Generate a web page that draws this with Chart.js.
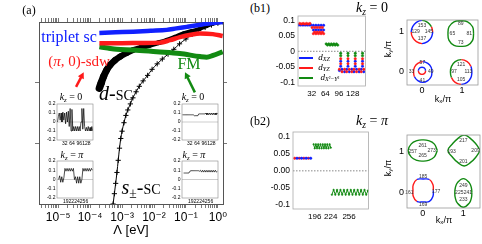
<!DOCTYPE html>
<html>
<head>
<meta charset="utf-8">
<script src="https://cdn.jsdelivr.net/npm/chart.js@4.4.1/dist/chart.umd.min.js"></script>
<style>
  body { margin: 0; background: #fff; }
  #page { position: relative; width: 482px; height: 244px; overflow: hidden; font-family: "Liberation Serif", serif; color: #000; }
  #page canvas { position: absolute; }
  .t { position: absolute; white-space: nowrap; line-height: 1; transform: translate(-50%, -50%); }
  .sans { font-family: "Liberation Sans", "DejaVu Sans", sans-serif; }
  .t sub { font-size: 68%; vertical-align: -0.3em; line-height: 0; }
  .sc { font-variant: small-caps; }
  .lg { position: absolute; height: 2.5px; width: 14px; }
</style>
</head>
<body>
<div id="page">
  <canvas id="cMain" width="250" height="244" style="left:0;top:0"></canvas>
  <canvas id="cIn1" width="56" height="48" style="left:40px;top:100px"></canvas>
  <canvas id="cIn2" width="56" height="49" style="left:40px;top:157px"></canvas>
  <canvas id="cIn3" width="56" height="48" style="left:165px;top:100px"></canvas>
  <canvas id="cIn4" width="56" height="49" style="left:165px;top:157px"></canvas>
  <canvas id="cB1" width="100" height="92" style="left:270px;top:10px"></canvas>
  <canvas id="cFS1" width="97" height="87" style="left:385px;top:10px"></canvas>
  <canvas id="cB2" width="108" height="100" style="left:265px;top:125px"></canvas>
  <canvas id="cFS2" width="97" height="95" style="left:385px;top:125px"></canvas>

  <div class="t" style="left:29px;top:10px;font-size:12px">(a)</div>
  <div class="t" style="left:69px;top:37px;font-size:16px;color:#1020ff">triplet sc</div>
  <div class="t" style="left:79px;top:61px;font-size:15px;color:#ff1a1a">(<i>π</i>, 0)-sdw</div>
  <div class="t" style="left:116px;top:93px;font-size:20px"><i>d</i>-<span class="sc">sc</span></div>
  <div class="t" style="left:189px;top:64px;font-size:16px;color:#128a12">FM</div>
  <div class="t" style="left:141px;top:187px;font-size:20px"><i>s</i><sub>±</sub>-<span class="sc">sc</span></div>
  <div class="t" style="left:71px;top:97px;font-size:10px"><i>k</i><sub><i>z</i></sub> = 0</div>
  <div class="t" style="left:193px;top:97px;font-size:10px"><i>k</i><sub><i>z</i></sub> = 0</div>
  <div class="t" style="left:72px;top:155px;font-size:10px"><i>k</i><sub><i>z</i></sub> = <i>π</i></div>
  <div class="t" style="left:194px;top:155px;font-size:10px"><i>k</i><sub><i>z</i></sub> = <i>π</i></div>

  <div class="t" style="left:260px;top:8px;font-size:12px">(b1)</div>
  <div class="t" style="left:260px;top:121px;font-size:12px">(b2)</div>
  <div class="t" style="left:372px;top:8px;font-size:14px"><i>k</i><sub><i>z</i></sub> = 0</div>
  <div class="t" style="left:372px;top:121px;font-size:14px"><i>k</i><sub><i>z</i></sub> = <i>π</i></div>

  <div class="lg" style="left:299px;top:56.5px;background:#1020ff"></div>
  <div class="lg" style="left:299px;top:66.5px;background:#ff1a1a"></div>
  <div class="lg" style="left:299px;top:76.8px;background:#128a12"></div>
  <div class="t" style="left:324px;top:57px;font-size:9px"><i>d</i><sub><i>XZ</i></sub></div>
  <div class="t" style="left:324px;top:67px;font-size:9px"><i>d</i><sub><i>YZ</i></sub></div>
  <div class="t" style="left:330px;top:77px;font-size:9px"><i>d</i><sub><i>X</i>²−<i>Y</i>²</sub></div>

  <div class="t sans" style="left:388px;top:49px;font-size:9px;transform:translate(-50%,-50%) rotate(-90deg)">k<sub>y</sub>/π</div>
  <div class="t sans" style="left:443px;top:99px;font-size:9px">k<sub>x</sub>/π</div>
  <div class="t sans" style="left:388px;top:168px;font-size:9px;transform:translate(-50%,-50%) rotate(-90deg)">k<sub>y</sub>/π</div>
  <div class="t sans" style="left:444px;top:220px;font-size:9px">k<sub>x</sub>/π</div>
</div>

<script>
const BLUE = '#1020ff', RED = '#ff1a1a', GREEN = '#128a12'

// ---- (a) flow of the couplings, x = log10(Λ / eV) ----
const tripletLogL = [-3.71, -3.2, -2.65, -2.1, -1.6, -1.3, -0.97, -0.65, -0.35, 0.15]
const tripletVal  = [2.82, 2.83, 2.84, 2.855, 2.87, 2.895, 2.92, 2.945, 2.97, 3.0]
const sdwLogL = [-3.71, -3.0, -2.4, -1.81, -1.5, -1.19, -0.85, -0.56, -0.16, 0.15]
const sdwVal  = [2.65, 2.65, 2.655, 2.66, 2.7, 2.75, 2.79, 2.81, 2.8, 2.77]
const fmLogL = [-3.71, -3.45, -3.17, -2.65, -1.92, -1.19, -0.56, -0.35, -0.15, 0.15]
const fmVal  = [2.59, 2.57, 2.55, 2.54, 2.51, 2.48, 2.43, 2.42, 2.45, 2.51]
const dscLogL = [-3.71, -3.65, -3.58, -3.48, -3.375, -3.22, -3.06, -2.85, -2.65, -2.4,
                 -2.125, -1.85, -1.6, -1.35, -1.08, -0.82, -0.56, -0.35, -0.15, 0.15]
const dscVal  = [1.91, 2.0, 2.1, 2.21, 2.29, 2.37, 2.43, 2.49, 2.54, 2.58,
                 2.62, 2.66, 2.7, 2.75, 2.81, 2.85, 2.89, 2.93, 2.97, 3.0]
const spmLogL = [-3.28, -3.24, -3.2, -3.16, -3.12, -3.08, -3.04, -3.0, -2.94, -2.88,
                 -2.82, -2.74, -2.66, -2.56, -2.46, -2.34, -2.2, -2.06, -1.9, -1.74,
                 -1.56, -1.38, -1.2, -1.0, -0.8, -0.6, -0.4, -0.2, 0.0, 0.16]
const spmVal  = [0.0, 0.17, 0.34, 0.52, 0.72, 0.92, 1.08, 1.2, 1.34, 1.46,
                 1.55, 1.65, 1.75, 1.85, 1.94, 2.03, 2.12, 2.22, 2.31, 2.39,
                 2.47, 2.55, 2.64, 2.72, 2.8, 2.86, 2.91, 2.95, 2.98, 3.0]
const xTickVals = [1e-5, 1e-4, 1e-3, 1e-2, 1e-1, 1]
const xTickLabels = ['10⁻⁵', '10⁻⁴', '10⁻³', '10⁻²', '10⁻¹', '10⁰']
const mainArrows = [
  { from: [Math.pow(10, -4.44), 1.93], to: [Math.pow(10, -4.2), 2.17], color: RED },
  { from: [Math.pow(10, -0.72), 1.84], to: [Math.pow(10, -1.03), 2.17], color: GREEN }
]

// ---- (a) insets: gap function along the Fermi surface ----
const kz0Idx = [0, 4, 8, 12, 16, 20, 24, 28, 32, 36, 40, 44, 48, 52, 56, 60, 64, 68, 72, 76,
                80, 84, 88, 92, 96, 100, 104, 108, 112, 116, 120, 124, 128, 132, 136, 140, 144, 148, 152, 156]
const kzPiIdx = [160, 164, 168, 172, 176, 180, 184, 188, 192, 196, 200, 204, 208, 212, 216, 220, 224,
                 228, 232, 236, 240, 244, 248, 252, 256, 260, 264, 268, 272, 276, 280, 284, 288]
const gapSdw0 = [0, .06, .1, .02, .1, 0, .11, .02, .1, -.02, .11, 0, .12, -.05, .15, -.1, .14, -.1, -.05, -.1,
                 -.05, -.1, -.05, -.1, -.05, -.1, 0, .15, -.08, .15, -.05, -.1, -.06, -.1, -.05, -.1, -.06, -.1, -.05, -.1]
const gapSdwPi = [0, .04, -.03, .03, -.03, .02, .12, .09, .12, .09, .12, .09, .12, .09, .12, 0, .03,
                  -.04, .03, -.04, .03, -.04, 0, .12, .09, .12, .09, .12, .09, .12, .09, .12, .1]
const gapFm0 = [.08, .08, .08, .08, .08, .08, .08, .08, .08, .08, .08, .08, .08, .07, .07, .07, .07, .07, .09, .09,
                .09, .09, .09, .09, .09, .09, .1, .08, .1, .08, .1, .08, .1, .08, .1, .08, .1, .08, .1, .09]
const gapFmPi = [.07, .07, .07, .07, .07, .07, .09, .095, .095, .095, .095, .095, .095, .095, .095, .09, .1,
                 .08, .1, .08, .1, .08, .1, .08, .1, .08, .1, .08, .1, .08, .1, .08, .09]
const insetYTicks = [-0.2, -0.1, 0, 0.1, 0.2]
const insetYLabels = ['-0.2', '-0.1', '0', '0.1', '0.2']
const kz0Ticks = [32, 64, 96, 128]
const kzPiTicks = [192, 224, 256]

// ---- (b1) kz = 0 orbital weights, [patch index, value] ----
const b1Blue = [[2, .085], [6, .085], [10, .085], [14, .085], [18, .085], [22, .085], [26, .085], [30, .085],
  [36, .084], [42, .084], [48, .084], [54, .084], [60, .084], [36, .069], [42, .069], [48, .069], [54, .069], [60, .069],
  [100, -.032], [117, -.032], [134, -.032], [151, -.032], [100, -.048], [117, -.048], [134, -.048], [151, -.048],
  [97, -.062], [103, -.058], [109, -.066], [114, -.058], [120, -.066], [126, -.058], [131, -.066], [137, -.058],
  [143, -.066], [148, -.058], [154, -.066]]
const b1Red = [[4, .09], [8, .088], [12, .09], [16, .088], [20, .09], [24, .088], [28, .09],
  [33, .077], [39, .077], [45, .077], [51, .077], [57, .077], [39, .062], [45, .062], [51, .062], [57, .062],
  [36, .057], [42, .057], [48, .057], [54, .057], [60, .057],
  [100, -.024], [117, -.024], [134, -.024], [151, -.024], [100, -.04], [117, -.04], [134, -.04], [151, -.04],
  [97, -.058], [103, -.066], [109, -.058], [114, -.066], [120, -.058], [126, -.066], [131, -.058], [137, -.066],
  [143, -.058], [148, -.066], [154, -.058]]
const b1Green = [[66, .024], [69, .02], [72, .024], [75, .02], [78, .024], [81, .02], [84, .024], [87, .02], [90, .024], [93, .02],
  [100, -.006], [117, -.006], [134, -.006], [151, -.006], [100, -.014], [117, -.014], [134, -.014], [151, -.014]]
const b1YTicks = [-0.1, -0.05, 0, 0.05, 0.1]
const b1YLabels = ['-0.1', '-0.05', '0', '0.05', '0.1']
const b1XTicks = [32, 64, 96, 128]

// ---- (b2) kz = π ----
const b2Red = [[161, .037], [169, .037], [177, .037], [185, .037]]
const b2Blue = [[165, .037], [173, .037], [181, .037], [189, .037]]
const b2GreenUp = [[194, .078], [196, .066], [198, .078], [200, .066], [202, .078], [204, .066], [206, .078], [208, .066],
  [210, .078], [212, .066], [214, .078], [216, .066], [218, .078], [220, .066], [222, .078], [224, .068]]
const b2GreenLow = [[226, -.07], [229, -.056], [232, -.07], [235, -.056], [238, -.07], [241, -.056], [244, -.07], [247, -.056],
  [250, -.07], [253, -.056], [256, -.07], [259, -.056], [262, -.07], [265, -.056], [268, -.07], [271, -.056],
  [274, -.07], [277, -.056], [280, -.07], [283, -.056], [286, -.07], [289, -.058]]
const b2YLabels = ['-0.1', '-0.05', '0.00', '0.05', '0.1']
const b2XTicks = [196, 224, 256]

// ---- Fermi pockets: centre (kx/π, ky/π) and radius every 30 degrees ----
const pocketAngles = [0, 30, 60, 90, 120, 150, 180, 210, 240, 270, 300, 330]
const fs0Pockets = [
  { c: [0, 1], r: [.27, .27, .28, .29, .28, .27, .27, .27, .28, .29, .28, .27] },
  { c: [0.97, 0.96], r: [.32, .34, .34, .32, .34, .34, .32, .34, .34, .32, .34, .34] },
  { c: [0.02, 0.0], r: [.23, .24, .25, .26, .25, .24, .23, .24, .25, .26, .25, .24] },
  { c: [0.0, 0.03], r: [.09, .09, .09, .09, .09, .09, .09, .09, .09, .09, .09, .09] },
  { c: [0.98, 0.0], r: [.27, .28, .3, .31, .3, .28, .27, .28, .3, .31, .3, .28] }
]
const fs0Colors = [
  ['r', 'g', 'g', 'b', 'b', 'b', 'r', 'r', 'r', 'b', 'b', 'b'],
  ['g', 'g', 'g', 'g', 'g', 'g', 'g', 'g', 'g', 'g', 'g', 'g'],
  ['b', 'b', 'b', 'r', 'r', 'r', 'r', 'b', 'b', 'b', 'b', 'b'],
  ['b', 'b', 'b', 'b', 'b', 'b', 'r', 'r', 'r', 'r', 'r', 'r'],
  ['b', 'r', 'r', 'g', 'g', 'g', 'g', 'r', 'r', 'b', 'b', 'b']
]
const fs0Tags = [['153', 0, 1.16], ['129', -0.16, 1.0], ['145', 0.17, 1.0], ['137', 0, 0.84],
  ['89', 0.97, 1.2], ['65', 0.76, 0.96], ['81', 1.18, 0.96], ['73', 0.97, 0.73],
  ['57', 0.01, 0.24], ['33', -0.26, 0.0], ['49', 0.22, 0.02], ['41', 0.01, -0.21],
  ['121', 0.98, 0.19], ['97', 0.8, 0.0], ['113', 1.16, 0.0], ['105', 0.98, -0.19]]
const fsPiPockets = [
  { c: [0, 1.02], r: [.36, .325, .28, .26, .28, .325, .36, .325, .28, .26, .28, .325] },
  { c: [1.02, 1.02], r: [.40, .33, .33, .38, .33, .33, .40, .33, .33, .38, .33, .33] },
  { c: [0.01, 0.04], r: [.25, .28, .31, .28, .31, .28, .25, .28, .31, .28, .31, .28] },
  { c: [1.0, -0.02], r: [.21, .23, .29, .35, .29, .23, .21, .23, .29, .35, .29, .23] }
]
const fsPiColors = [
  ['g', 'g', 'g', 'g', 'g', 'g', 'g', 'g', 'g', 'g', 'g', 'g'],
  ['g', 'g', 'g', 'g', 'g', 'g', 'g', 'g', 'g', 'g', 'g', 'g'],
  ['r', 'r', 'b', 'b', 'r', 'r', 'r', 'r', 'b', 'b', 'b', 'b'],
  ['g', 'g', 'g', 'g', 'g', 'g', 'g', 'g', 'g', 'g', 'g', 'g']
]
const fsPiTags = [['261', 0, 1.13], ['257', -0.25, 1.0], ['273', 0.22, 1.02], ['265', 0, 0.89],
  ['217', 1.0, 1.27], ['193', 0.71, 1.0], ['209', 1.3, 1.02], ['201', 1.0, 0.74],
  ['185', 0.01, 0.38], ['161', -0.33, -0.02], ['177', 0.33, 0.02], ['169', 0.01, -0.3],
  ['249', 1.0, 0.17], ['225', 0.9, -0.01], ['241', 1.11, -0.01], ['233', 1.0, -0.19]]
const fsTicks = [0, 1]

// ---------------------------------------------------------------
const colorOf = { r: RED, g: GREEN, b: BLUE }
const SANS = '"Liberation Sans", "DejaVu Sans", sans-serif'

// fill / frame / zero line of a plot area
const boxPlugin = {
  id: 'box',
  beforeDraw(chart, args, o) {
    if (!o.fill) return
    const a = chart.chartArea, c = chart.ctx
    c.save(); c.fillStyle = o.fill; c.fillRect(a.left, a.top, a.width, a.height); c.restore()
  },
  beforeDatasetsDraw(chart, args, o) {
    if (!o.zero) return
    const a = chart.chartArea, c = chart.ctx, y = chart.scales.y.getPixelForValue(0)
    c.save(); c.strokeStyle = o.zero; c.lineWidth = o.zeroWidth || 0.6
    c.setLineDash(o.zeroDash || [])
    c.beginPath(); c.moveTo(a.left, y); c.lineTo(a.right, y); c.stroke(); c.restore()
  },
  afterDraw(chart, args, o) {
    if (!o.frame) return
    const a = chart.chartArea, c = chart.ctx
    c.save(); c.strokeStyle = o.frame; c.lineWidth = o.frameWidth || 0.8
    c.strokeRect(a.left, a.top, a.width, a.height); c.restore()
  }
}

const arrowPlugin = {
  id: 'arrows',
  afterDatasetsDraw(chart, args, o) {
    if (!o.list) return
    const { ctx, scales: { x, y } } = chart
    o.list.forEach(a => {
      const x0 = x.getPixelForValue(a.from[0]), y0 = y.getPixelForValue(a.from[1])
      const x1 = x.getPixelForValue(a.to[0]), y1 = y.getPixelForValue(a.to[1])
      const ang = Math.atan2(y1 - y0, x1 - x0), h = 7
      ctx.save()
      ctx.strokeStyle = ctx.fillStyle = a.color
      ctx.lineWidth = 2.5
      ctx.beginPath(); ctx.moveTo(x0, y0)
      ctx.lineTo(x1 - h * 0.7 * Math.cos(ang), y1 - h * 0.7 * Math.sin(ang)); ctx.stroke()
      ctx.beginPath(); ctx.moveTo(x1, y1)
      ctx.lineTo(x1 - h * Math.cos(ang - 0.5), y1 - h * Math.sin(ang - 0.5))
      ctx.lineTo(x1 - h * Math.cos(ang + 0.5), y1 - h * Math.sin(ang + 0.5))
      ctx.closePath(); ctx.fill()
      ctx.restore()
    })
  }
}

const tagPlugin = {
  id: 'tags',
  afterDatasetsDraw(chart, args, o) {
    if (!o.list) return
    const { ctx, scales: { x, y } } = chart
    ctx.save()
    ctx.font = '5px ' + SANS; ctx.fillStyle = '#333'
    ctx.textAlign = 'center'; ctx.textBaseline = 'middle'
    o.list.forEach(t => ctx.fillText(t[0], x.getPixelForValue(t[1]), y.getPixelForValue(t[2])))
    ctx.restore()
  }
}

Chart.register(boxPlugin, arrowPlugin, tagPlugin)

const fitW = w => s => { s.width = w; s.paddingTop = 0; s.paddingBottom = 0 }
const fitH = h => s => { s.height = h; s.paddingLeft = 0; s.paddingRight = 0 }
const setTicks = vals => s => { s.ticks = vals.map(v => ({ value: v })) }
const logPts = (ls, vs) => ls.map((l, i) => ({ x: Math.pow(10, l), y: vs[i] }))
const xy = (xs, ys) => xs.map((x, i) => ({ x, y: ys[i] }))
const noGrid = { display: false, drawTicks: false, tickLength: 0 }
const noBorder = { display: false }

const base = {
  responsive: false, animation: false, devicePixelRatio: 1, events: []
}
const quiet = { legend: { display: false }, tooltip: { enabled: false } }

// ---------- (a) main panel ----------
const xMin = Math.pow(10, -5.6), xMax = Math.pow(10, 0.16)
const minorTicks = []
for (let n = -6; n <= 0; n++) for (let m = 1; m <= 9; m++) {
  const v = m * Math.pow(10, n)
  if (v >= xMin && v <= xMax) minorTicks.push(v)
}
const frameGrid = { drawOnChartArea: false, drawTicks: true, tickLength: 4, color: '#555', lineWidth: 0.8 }
const frameBorder = { color: '#555', width: 1 }
const dscN = dscVal.length

new Chart(document.getElementById('cMain'), {
  type: 'line',
  data: {
    datasets: [
      { data: logPts(tripletLogL, tripletVal), borderColor: BLUE, borderWidth: 4.5 },
      { data: logPts(sdwLogL, sdwVal), borderColor: RED, borderWidth: 4.5 },
      { data: logPts(fmLogL, fmVal), borderColor: GREEN, borderWidth: 5 },
      { data: logPts(dscLogL, dscVal), borderColor: '#000', borderCapStyle: 'round',
        segment: { borderWidth: c => 7.5 - 4.5 * c.p0DataIndex / (dscN - 1) } },
      { data: logPts(spmLogL, spmVal), borderColor: '#000', borderWidth: 1,
        pointStyle: 'cross', pointRadius: 2.6, pointBorderWidth: 1, pointBorderColor: '#000' }
    ]
  },
  options: {
    ...base,
    elements: { point: { radius: 0 }, line: { tension: 0.3, cubicInterpolationMode: 'monotone' } },
    plugins: { ...quiet, arrows: { list: mainArrows } },
    scales: {
      x: {
        type: 'logarithmic', position: 'bottom', min: xMin, max: xMax,
        afterBuildTicks: setTicks(minorTicks), afterFit: fitH(40),
        grid: frameGrid, border: frameBorder,
        ticks: {
          autoSkip: false, maxRotation: 0, padding: 2, color: '#000',
          font: { family: SANS, size: 12 },
          callback: v => {
            const i = xTickVals.findIndex(t => Math.abs(t - v) / t < 1e-6)
            return i >= 0 ? xTickLabels[i] : ''
          }
        },
        title: { display: true, text: 'Λ [eV]', color: '#000', font: { family: SANS, size: 13 }, padding: { top: 0, bottom: 6 } }
      },
      xTop: {
        type: 'logarithmic', position: 'top', min: xMin, max: xMax,
        afterBuildTicks: setTicks(minorTicks), afterFit: fitH(22),
        grid: frameGrid, border: frameBorder, ticks: { display: false }
      },
      y: {
        min: 0, max: 3, afterBuildTicks: setTicks([1, 2]), afterFit: fitW(39),
        grid: frameGrid, border: frameBorder, ticks: { display: false }
      },
      yRight: {
        position: 'right', min: 0, max: 3, afterBuildTicks: setTicks([1, 2]), afterFit: fitW(27),
        grid: frameGrid, border: frameBorder, ticks: { display: false }
      }
    }
  }
})

// ---------- (a) insets ----------
function inset(id, xs, ys, xMinI, xMaxI, xTicks) {
  new Chart(document.getElementById(id), {
    type: 'line',
    data: { datasets: [{ data: xy(xs, ys), borderColor: '#000', borderWidth: 0.7, pointRadius: 0, tension: 0 }] },
    options: {
      ...base,
      layout: { padding: { top: 4, right: 3 } },
      plugins: { ...quiet, box: { fill: '#fff', frame: '#888', frameWidth: 0.6, zero: '#999', zeroWidth: 0.5 } },
      scales: {
        x: {
          type: 'linear', min: xMinI, max: xMaxI, afterBuildTicks: setTicks(xTicks), afterFit: fitH(8),
          grid: noGrid, border: noBorder,
          ticks: { autoSkip: false, maxRotation: 0, padding: 1, color: '#000', font: { family: SANS, size: 5 } }
        },
        y: {
          min: -0.2, max: 0.2, afterBuildTicks: setTicks(insetYTicks), afterFit: fitW(17),
          grid: noGrid, border: noBorder,
          ticks: { padding: 1.5, color: '#000', font: { family: SANS, size: 5 }, callback: (v, i) => insetYLabels[i] }
        }
      }
    }
  })
}
inset('cIn1', kz0Idx, gapSdw0, -2, 157, kz0Ticks)
inset('cIn2', kzPiIdx, gapSdwPi, 154, 290, kzPiTicks)
inset('cIn3', kz0Idx, gapFm0, -2, 157, kz0Ticks)
inset('cIn4', kzPiIdx, gapFmPi, 154, 290, kzPiTicks)

// ---------- (b) orbital weights ----------
function weights(id, sets, xMinB, xMaxB, xTicks, yLabels, padTop) {
  new Chart(document.getElementById(id), {
    type: 'scatter',
    data: { datasets: sets },
    options: {
      ...base,
      layout: { padding: { top: padTop, right: 3 } },
      plugins: { ...quiet, box: { frame: '#aaa', frameWidth: 0.8, zero: '#555', zeroWidth: 0.7, zeroDash: [1.5, 1.5] } },
      scales: {
        x: {
          type: 'linear', min: xMinB, max: xMaxB, afterBuildTicks: setTicks(xTicks), afterFit: fitH(16),
          grid: noGrid, border: noBorder,
          ticks: { autoSkip: false, maxRotation: 0, padding: 3, color: '#000', font: { family: SANS, size: 8 } }
        },
        y: {
          min: -0.112, max: 0.114, afterBuildTicks: setTicks(b1YTicks), afterFit: fitW(28),
          grid: noGrid, border: noBorder,
          ticks: { padding: 3, color: '#000', font: { family: SANS, size: 8.5 }, callback: (v, i) => yLabels[i] }
        }
      }
    }
  })
}
const dots = (data, color, extra) => Object.assign({ data, borderColor: color, backgroundColor: color, pointRadius: 1.2, pointBorderWidth: 0.5 }, extra || {})

weights('cB1', [
  dots(b1Red, RED), dots(b1Blue, BLUE), dots(b1Green, GREEN)
], 0, 158, b1XTicks, b1YLabels, 6)

weights('cB2', [
  dots(b2Blue, BLUE, { showLine: true, borderWidth: 1 }),
  dots(b2Red, RED, { showLine: true, borderWidth: 1 }),
  dots(b2GreenUp, GREEN, { showLine: true, borderWidth: 1, pointRadius: 0.8 }),
  dots(b2GreenLow, GREEN, { showLine: true, borderWidth: 1, pointRadius: 0.8 })
], 158, 290, b2XTicks, b2YLabels, 7)

// ---------- (b) Fermi surfaces ----------
function pocketSet(p, cols) {
  const pts = p.r.map((r, i) => {
    const a = pocketAngles[i] * Math.PI / 180
    return { x: p.c[0] + r * Math.cos(a), y: p.c[1] + r * Math.sin(a) }
  })
  pts.push(pts[0])
  return {
    data: pts, showLine: true, borderWidth: 1.4, pointRadius: 0, tension: 0.45,
    borderColor: colorOf[cols[0]],
    segment: { borderColor: c => colorOf[cols[c.p0DataIndex]] }
  }
}
function fermi(id, pockets, colors, tags, range, padTop, padRight) {
  new Chart(document.getElementById(id), {
    type: 'scatter',
    data: { datasets: pockets.map((p, i) => pocketSet(p, colors[i])) },
    options: {
      ...base,
      layout: { padding: { top: padTop, right: padRight } },
      plugins: { ...quiet, box: { frame: '#999', frameWidth: 0.8 }, tags: { list: tags } },
      scales: {
        x: {
          type: 'linear', min: range[0], max: range[1], afterBuildTicks: setTicks(fsTicks), afterFit: fitH(12),
          grid: noGrid, border: noBorder,
          ticks: { autoSkip: false, maxRotation: 0, padding: 0, color: '#000', font: { family: SANS, size: 9 } }
        },
        y: {
          min: range[2], max: range[3], afterBuildTicks: setTicks(fsTicks), afterFit: fitW(22),
          grid: noGrid, border: noBorder,
          ticks: { padding: 3, color: '#000', font: { family: SANS, size: 9 } }
        }
      }
    }
  })
}
fermi('cFS1', fs0Pockets, fs0Colors, fs0Tags, [-0.375, 1.4, -0.325, 1.3], 10, 4)
fermi('cFS2', fsPiPockets, fsPiColors, fsPiTags, [-0.387, 1.41, -0.39, 1.4], 10, 2)
</script>
</body>
</html>
